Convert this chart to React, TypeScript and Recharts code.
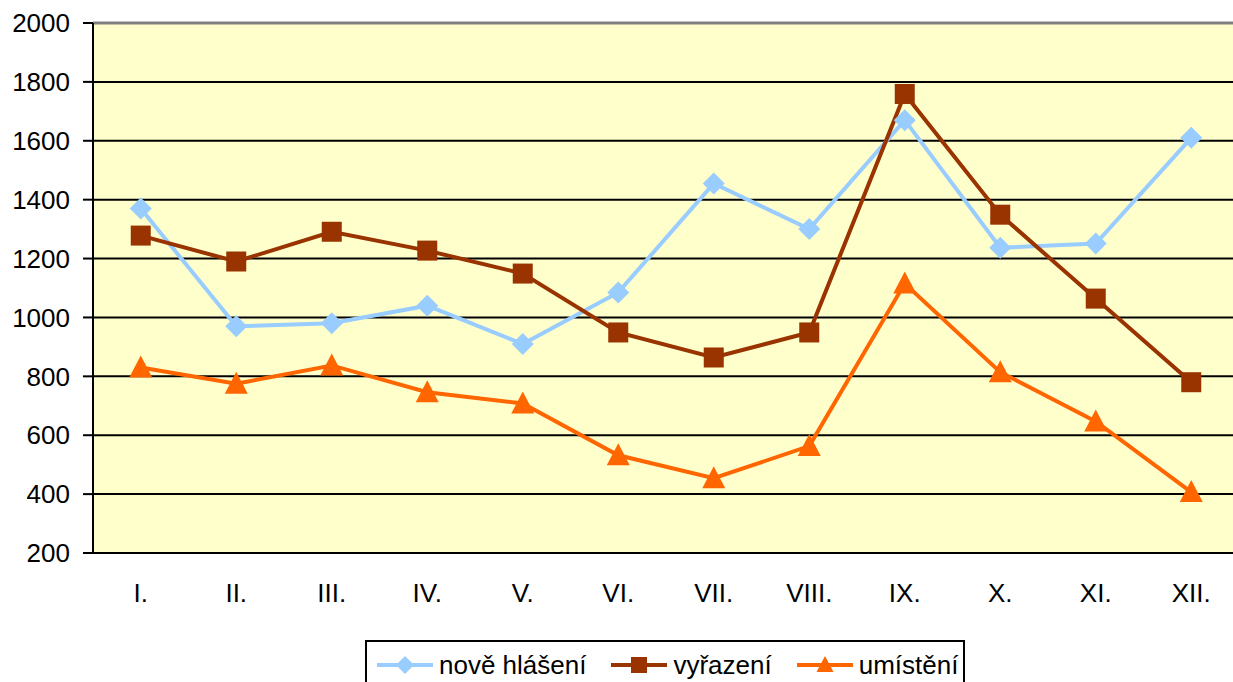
import React from 'react';
import { ComposedChart, Line, XAxis, YAxis, CartesianGrid, ReferenceLine } from 'recharts';

const months = ['I.', 'II.', 'III.', 'IV.', 'V.', 'VI.', 'VII.', 'VIII.', 'IX.', 'X.', 'XI.', 'XII.'];
const noveHlaseni = [1370, 970, 980, 1040, 910, 1085, 1455, 1300, 1670, 1237, 1251, 1610];
const vyrazeni = [1278, 1190, 1291, 1227, 1149, 949, 864, 949, 1759, 1349, 1064, 780];
const umisteni = [830, 775, 837, 746, 708, 532, 454, 563, 1115, 814, 647, 407];
const yTicks = [200, 400, 600, 800, 1000, 1200, 1400, 1600, 1800, 2000];
const seriesNames = ['nově hlášení', 'vyřazení', 'umístění'];

const BLUE = '#99CCFF';
const BROWN = '#993300';
const ORANGE = '#FF6600';
const FONT = '"Liberation Sans", Arial, sans-serif';

const data = months.map((m, i) => ({
  x: i + 0.5,
  m,
  a: noveHlaseni[i],
  b: vyrazeni[i],
  c: umisteni[i],
}));
const labelTicks = months.map((_, i) => i + 0.5);
const boundaryTicks = [0, ...months.map((_, i) => i + 1)];

const diamondPath = (cx: number, cy: number, r: number) =>
  `M${cx},${cy - r}L${cx + r},${cy}L${cx},${cy + r}L${cx - r},${cy}Z`;
const trianglePath = (cx: number, cy: number, w: number, h: number) =>
  `M${cx},${cy - h / 2}L${cx + w / 2},${cy + h / 2}L${cx - w / 2},${cy + h / 2}Z`;

const DiamondDot = (p: any) => {
  const { cx, cy, index } = p;
  if (cx == null || cy == null) return <g key={`d-${index}`} />;
  return <path key={`d-${index}`} d={diamondPath(cx, cy, 11)} fill={BLUE} />;
};
const SquareDot = (p: any) => {
  const { cx, cy, index } = p;
  if (cx == null || cy == null) return <g key={`s-${index}`} />;
  return <rect key={`s-${index}`} x={cx - 10} y={cy - 10} width={20} height={20} fill={BROWN} />;
};
const TriangleDot = (p: any) => {
  const { cx, cy, index } = p;
  if (cx == null || cy == null) return <g key={`t-${index}`} />;
  return <path key={`t-${index}`} d={trianglePath(cx, cy - 1, 23, 22)} fill={ORANGE} />;
};

const LegendMarker = ({ kind, color }: { kind: string; color: string }) => (
  <svg width={56} height={24} style={{ display: 'block', flex: 'none' }}>
    <line x1={0} y1={12} x2={56} y2={12} stroke={color} strokeWidth={4} />
    {kind === 'diamond' && <path d={diamondPath(28, 12, 9)} fill={color} />}
    {kind === 'square' && <rect x={20} y={4} width={16} height={16} fill={color} />}
    {kind === 'triangle' && <path d={trianglePath(28, 11, 17, 16)} fill={color} />}
  </svg>
);

export default function App() {
  const legendItems = [
    { name: seriesNames[0], kind: 'diamond', color: BLUE },
    { name: seriesNames[1], kind: 'square', color: BROWN },
    { name: seriesNames[2], kind: 'triangle', color: ORANGE },
  ];
  return (
    <div
      style={{
        position: 'absolute',
        left: 0,
        top: 0,
        width: 1233,
        height: 682,
        overflow: 'hidden',
        background: '#fff',
        fontFamily: FONT,
      }}
    >
      <ComposedChart
        width={1240}
        height={682}
        data={data}
        margin={{ top: 23, right: 1, left: 0, bottom: 69 }}
      >
        <CartesianGrid
          vertical={false}
          stroke="#000"
          strokeWidth={2}
          fill="#FFFFCC"
          fillOpacity={1}
        />
        <XAxis
          xAxisId="b"
          type="number"
          dataKey="x"
          domain={[0, 12]}
          ticks={boundaryTicks}
          allowDataOverflow
          tick={false}
          tickSize={10}
          height={0}
          axisLine={{ stroke: '#000', strokeWidth: 2 }}
          tickLine={{ stroke: '#000', strokeWidth: 2 }}
        />
        <XAxis
          xAxisId="l"
          type="number"
          dataKey="x"
          domain={[0, 12]}
          ticks={labelTicks}
          allowDataOverflow
          interval={0}
          tickFormatter={(v: number) => months[Math.floor(v)]}
          axisLine={false}
          tickLine={false}
          tickSize={0}
          tickMargin={31}
          height={60}
          tick={{ fill: '#000', fontSize: 26, fontFamily: FONT }}
        />
        <YAxis
          domain={[200, 2000]}
          ticks={yTicks}
          interval={0}
          width={93}
          tickSize={10}
          tickMargin={13}
          allowDataOverflow
          axisLine={{ stroke: '#000', strokeWidth: 2 }}
          tickLine={{ stroke: '#000', strokeWidth: 2 }}
          tick={{ fill: '#000', fontSize: 26, fontFamily: FONT }}
        />
        <ReferenceLine xAxisId="l" y={2000} stroke="#808080" strokeWidth={3} />
        <Line
          xAxisId="l"
          dataKey="a"
          name={seriesNames[0]}
          stroke={BLUE}
          strokeWidth={4}
          dot={DiamondDot}
          activeDot={false}
          isAnimationActive={false}
        />
        <Line
          xAxisId="l"
          dataKey="b"
          name={seriesNames[1]}
          stroke={BROWN}
          strokeWidth={4}
          dot={SquareDot}
          activeDot={false}
          isAnimationActive={false}
        />
        <Line
          xAxisId="l"
          dataKey="c"
          name={seriesNames[2]}
          stroke={ORANGE}
          strokeWidth={4}
          dot={TriangleDot}
          activeDot={false}
          isAnimationActive={false}
        />
      </ComposedChart>
      <div
        style={{
          position: 'absolute',
          left: 365,
          top: 640,
          width: 600,
          height: 50,
          boxSizing: 'border-box',
          border: '2px solid #000',
          background: '#fff',
          display: 'flex',
          alignItems: 'center',
          paddingLeft: 10,
        }}
      >
        {legendItems.map((it, i) => (
          <div
            key={it.name}
            style={{ display: 'flex', alignItems: 'center', marginLeft: i === 0 ? 0 : 25 }}
          >
            <LegendMarker kind={it.kind} color={it.color} />
            <span style={{ marginLeft: 6, fontSize: 26, color: '#000', lineHeight: '30px', whiteSpace: 'nowrap' }}>
              {it.name}
            </span>
          </div>
        ))}
      </div>
    </div>
  );
}
